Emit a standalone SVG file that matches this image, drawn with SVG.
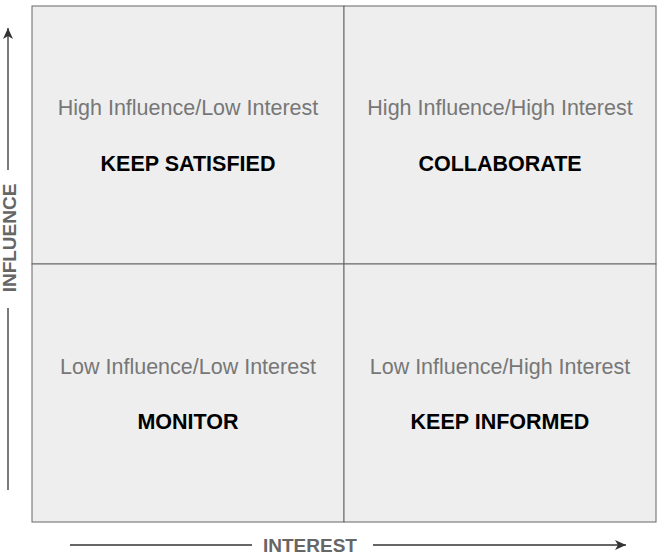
<svg xmlns="http://www.w3.org/2000/svg" width="662" height="556" viewBox="0 0 662 556">
<style>
.q{fill:#eeeeee;stroke:#666;stroke-width:1}
.s{font-family:"Liberation Sans",Arial,sans-serif;font-size:21.5px;fill:#777;text-anchor:middle}
.b{font-family:"Liberation Sans",Arial,sans-serif;font-size:21.5px;font-weight:bold;fill:#000;text-anchor:middle}
.ax{font-family:"Liberation Sans",Arial,sans-serif;font-size:19px;font-weight:bold;fill:#666;text-anchor:middle}
.l{stroke:#333;stroke-width:1.3;fill:none}
</style>
<defs><marker id="a" markerWidth="12" markerHeight="10" refX="11" refY="5" orient="auto" markerUnits="userSpaceOnUse"><path d="M0,0 L11,5 L0,10 L3,5 Z" fill="#333"/></marker></defs>
<g id="q1"><rect class="q" x="32" y="6" width="312" height="258"/><text class="s" x="188" y="115">High Influence/Low Interest</text><text class="b" x="188" y="171">KEEP SATISFIED</text></g>
<g id="q2"><rect class="q" x="344" y="6" width="312" height="258"/><text class="s" x="500" y="115">High Influence/High Interest</text><text class="b" x="500" y="171">COLLABORATE</text></g>
<g id="q3"><rect class="q" x="32" y="264" width="312" height="258"/><text class="s" x="188" y="374">Low Influence/Low Interest</text><text class="b" x="188" y="429">MONITOR</text></g>
<g id="q4"><rect class="q" x="344" y="264" width="312" height="258"/><text class="s" x="500" y="374">Low Influence/High Interest</text><text class="b" x="500" y="429">KEEP INFORMED</text></g>
<g id="connectors">
<line class="l" x1="8" y1="490" x2="8" y2="308"/>
<line class="l" x1="8" y1="170" x2="8" y2="28" marker-end="url(#a)"/>
<line class="l" x1="70" y1="545" x2="252" y2="545"/>
<line class="l" x1="373" y1="545" x2="626" y2="545" marker-end="url(#a)"/>
</g>
<text class="ax" transform="translate(16,238) rotate(-90)">INFLUENCE</text>
<text class="ax" x="310" y="552">INTEREST</text>
</svg>
